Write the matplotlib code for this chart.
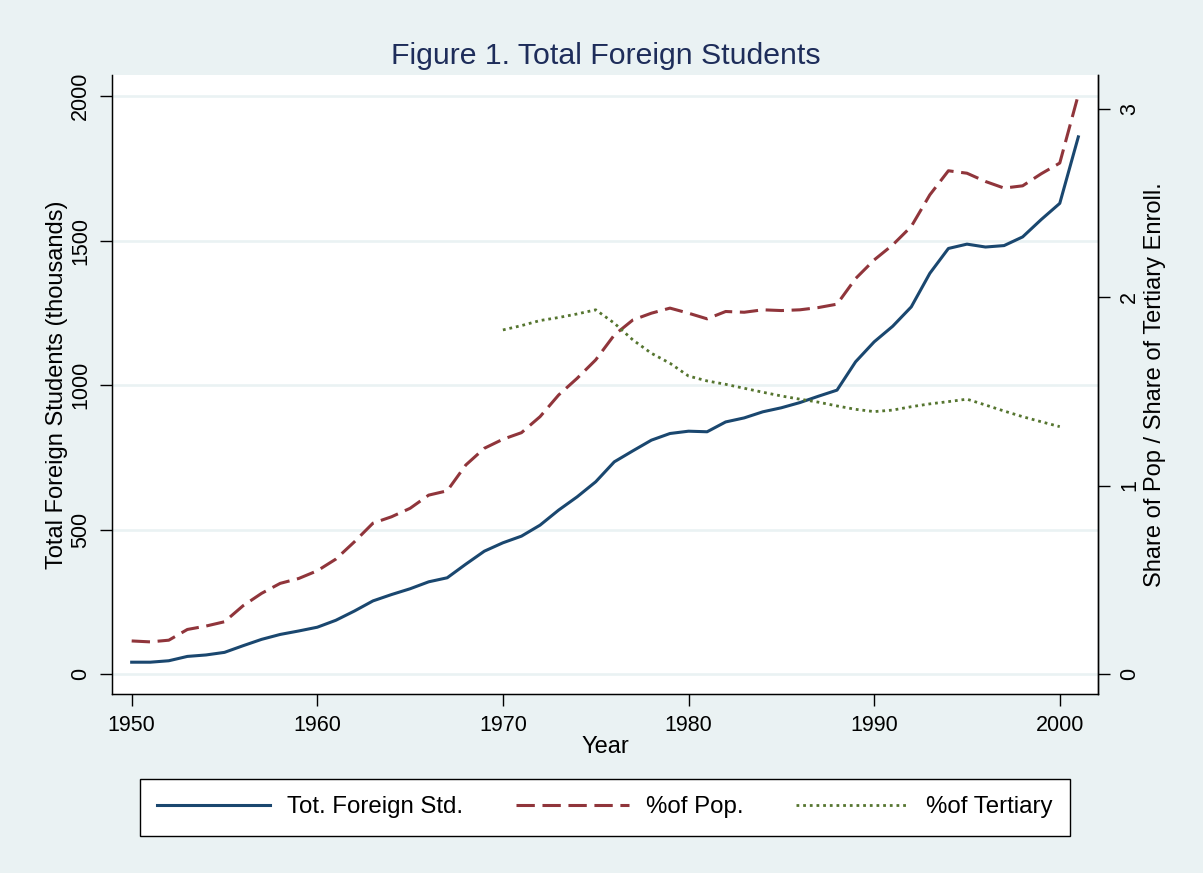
import matplotlib
matplotlib.use("Agg")
import matplotlib.pyplot as plt

plt.rcParams["font.family"] = ["Liberation Sans", "DejaVu Sans"]

# --- data ----------------------------------------------------------------
years = list(range(1950, 2002))
tot_foreign = [42, 42, 47, 62, 67, 76, 99, 121, 138, 150,
               163, 187, 219, 254, 276, 296, 320, 334, 381, 426,
               455, 478, 516, 568, 614, 666, 735, 773, 810, 833,
               841, 839, 873, 887, 908, 922, 940, 962, 983, 1081,
               1150, 1204, 1271, 1387, 1473, 1488, 1478, 1483, 1513, 1573,
               1629, 1859]
pct_pop = [0.174, 0.169, 0.178, 0.235, 0.253, 0.276, 0.361, 0.427, 0.480, 0.506,
           0.547, 0.609, 0.701, 0.800, 0.834, 0.879, 0.949, 0.972, 1.109, 1.198,
           1.246, 1.281, 1.366, 1.481, 1.570, 1.668, 1.800, 1.880, 1.916, 1.943,
           1.916, 1.886, 1.925, 1.921, 1.934, 1.930, 1.934, 1.946, 1.964, 2.100,
           2.199, 2.279, 2.377, 2.545, 2.673, 2.660, 2.616, 2.581, 2.593, 2.657,
           2.714, 3.077]
tert_years = list(range(1970, 2001))
pct_tertiary = [1.827, 1.850, 1.877, 1.893, 1.912, 1.934, 1.863, 1.774, 1.703, 1.650,
                1.582, 1.556, 1.538, 1.517, 1.496, 1.476, 1.459, 1.443, 1.423, 1.405,
                1.393, 1.401, 1.419, 1.434, 1.446, 1.459, 1.428, 1.396, 1.366, 1.339,
                1.313]
x_ticks = [1950, 1960, 1970, 1980, 1990, 2000]
left_ticks = [0, 500, 1000, 1500, 2000]
right_ticks = [0, 1, 2, 3]

# Stata s2color look
BG = "#EAF2F3"
NAVY = "#1A476F"
MAROON = "#90353B"
GREEN = "#55752F"
TITLE = "#1E2D5A"

W, H = 1203, 873
fig = plt.figure(figsize=(W / 100, H / 100), dpi=100, facecolor=BG)
ax = fig.add_axes([112 / W, 1 - 694 / H, 986 / W, 619 / H])
ax.set_facecolor("white")

ax.set_xlim(1948.94, 2002.06)
ax.set_ylim(-68, 2073)
ax.set_xticks(x_ticks)
ax.set_yticks(left_ticks)
ax.grid(axis="y", color=BG, linewidth=1.9)
ax.set_axisbelow(True)

for s in ("left", "bottom", "right"):
    ax.spines[s].set_linewidth(1.0)
    ax.spines[s].set_color("black")
ax.spines["top"].set_visible(False)

ax.tick_params(axis="both", direction="out", length=8.6, width=1.0,
               labelsize=15.5, pad=6.5, colors="black")
for lbl in ax.get_yticklabels():
    lbl.set_rotation(90)
    lbl.set_va("center")

l1, = ax.plot(years, tot_foreign, color=NAVY, linewidth=2.2,
              label="Tot. Foreign Std.")

ax2 = ax.twinx()
ax2.set_ylim(-0.108, 3.182)
ax2.set_yticks(right_ticks)
ax2.spines["top"].set_visible(False)
ax2.spines["right"].set_linewidth(1.0)
ax2.tick_params(axis="y", direction="out", length=8.6, width=1.0,
                labelsize=15.5, pad=6.5)
for lbl in ax2.get_yticklabels():
    lbl.set_rotation(90)
    lbl.set_va("center")

l2, = ax2.plot(years, pct_pop, color=MAROON, linewidth=2.2,
               dashes=(6, 2.5), label="%of Pop.")
l3, = ax2.plot(tert_years, pct_tertiary, color=GREEN, linewidth=2.0,
               dashes=(1, 1.4), label="%of Tertiary")

ax.set_xlabel("Year", fontsize=17, va="center")
ax.xaxis.set_label_coords(0.5, -0.0855)
ax.set_ylabel("Total Foreign Students (thousands)", fontsize=17, va="center")
ax.yaxis.set_label_coords(-0.0558, 0.5)
ax2.set_ylabel("Share of Pop / Share of Tertiary Enroll.", fontsize=17,
               va="center", rotation=90)
ax2.yaxis.set_label_coords(1.0578, 0.5)

fig.text(605.5 / W, 1 - 55.5 / H, "Figure 1. Total Foreign Students",
         ha="center", va="center", fontsize=21.8, color=TITLE)

leg = fig.legend(handles=[l1, l2, l3], ncol=3, mode="expand",
                 loc="center", bbox_to_anchor=(140 / W, 1 - 836 / H, 930 / W, 57 / H),
                 fontsize=17.3, handlelength=4.7, handletextpad=0.7,
                 borderpad=0.72, borderaxespad=0, fancybox=False, framealpha=1,
                 edgecolor="black", facecolor="white")
leg.get_frame().set_linewidth(1.0)

fig.savefig("out.png", dpi=100, facecolor=BG)
